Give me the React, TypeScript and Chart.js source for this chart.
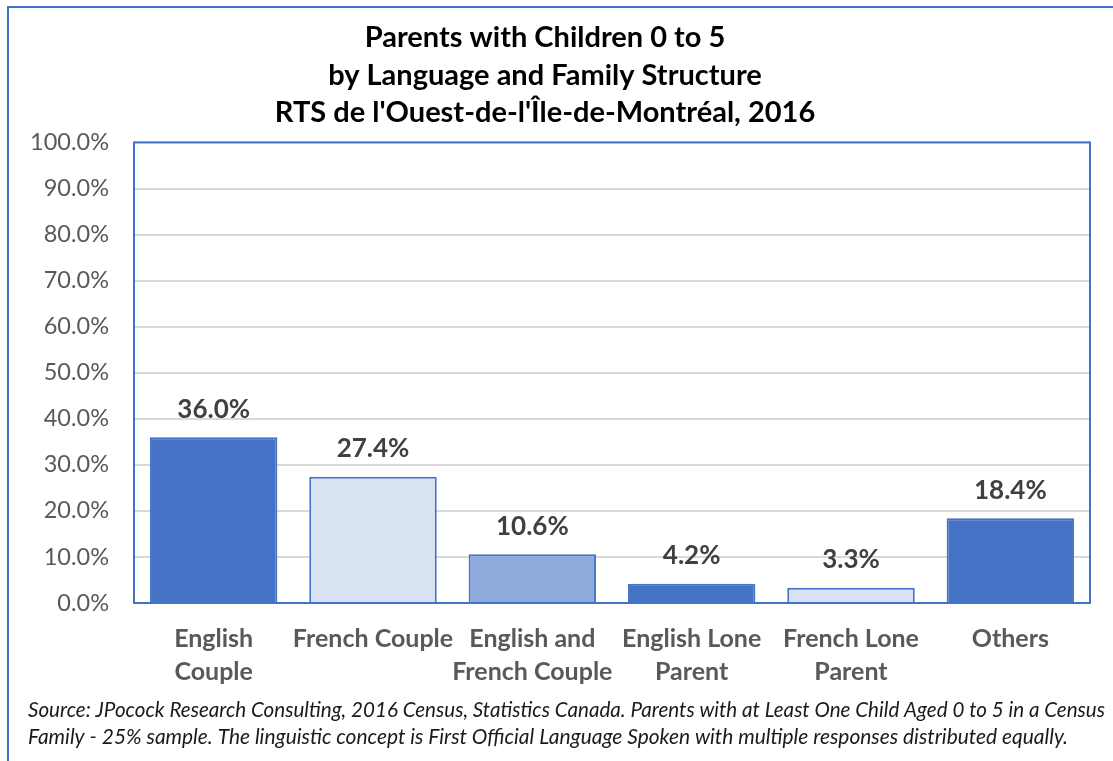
import React, { useEffect, useRef } from "react";
import { Chart, registerables } from "chart.js";

Chart.register(...registerables);

const categories: (string | string[])[] = [
  ["English", "Couple"],
  "French Couple",
  ["English and", "French Couple"],
  ["English Lone", "Parent"],
  ["French Lone", "Parent"],
  "Others",
];
const shares: number[] = [36.0, 27.4, 10.6, 4.2, 3.3, 18.4];
const barColors: string[] = ["#4472C4", "#DAE3F3", "#8FAADC", "#4472C4", "#DAE3F3", "#4472C4"];
const titleLines: string[] = [
  "Parents with Children 0 to 5",
  "by Language and Family Structure",
  "RTS de l'Ouest-de-l'Île-de-Montréal, 2016",
];
const footnoteLines: string[] = [
  "Source: JPocock Research Consulting, 2016 Census, Statistics Canada. Parents with at Least One Child Aged 0 to 5 in a Census",
  "Family - 25% sample. The linguistic concept is First Official Language Spoken with multiple responses distributed equally.",
];

const BLUE = "#4472C4";
const FONT = "Lato, 'Open Sans', sans-serif";

const decorPlugin = {
  id: "decor",
  afterDraw(chart: any) {
    const { ctx, chartArea } = chart;
    ctx.save();
    ctx.strokeStyle = BLUE;
    ctx.lineWidth = 2;
    ctx.beginPath();
    ctx.moveTo(8, 761);
    ctx.lineTo(8, 7);
    ctx.lineTo(1113, 7);
    ctx.stroke();
    ctx.strokeRect(chartArea.left, chartArea.top, chartArea.right - chartArea.left, chartArea.bottom - chartArea.top);
    ctx.fillStyle = "#1a1a1a";
    ctx.font = `italic 21px ${FONT}`;
    ctx.textAlign = "left";
    ctx.textBaseline = "middle";
    ctx.fillText(footnoteLines[0], 28, 710, 1077);
    ctx.fillText(footnoteLines[1], 28, 737, 1040);
    ctx.restore();
  },
  afterDatasetsDraw(chart: any) {
    const { ctx } = chart;
    const meta = chart.getDatasetMeta(0);
    ctx.save();
    ctx.fillStyle = "#404040";
    ctx.font = `bold 26px ${FONT}`;
    ctx.textAlign = "center";
    ctx.textBaseline = "middle";
    meta.data.forEach((bar: any, i: number) => {
      ctx.fillText(shares[i].toFixed(1) + "%", bar.x, bar.y - 28);
    });
    ctx.restore();
  },
};

export default function App() {
  const ref = useRef<HTMLCanvasElement | null>(null);
  useEffect(() => {
    if (!ref.current) return;
    const chart = new Chart(ref.current, {
      type: "bar",
      data: {
        labels: categories,
        datasets: [
          {
            data: shares,
            backgroundColor: barColors,
            borderColor: BLUE,
            borderWidth: 2,
            barPercentage: 0.8,
            categoryPercentage: 1.0,
          },
        ],
      },
      options: {
        animation: false,
        responsive: false,
        maintainAspectRatio: false,
        layout: { padding: { left: 0, right: 23, top: 0, bottom: 0 } },
        plugins: {
          legend: { display: false },
          tooltip: { enabled: false },
          title: {
            display: true,
            text: titleLines,
            color: "#000000",
            font: { family: FONT, size: 29, weight: "bold", lineHeight: 1.293 },
            padding: { top: 19, bottom: 11 },
          },
        },
        scales: {
          x: {
            grid: { display: false, drawTicks: false },
            border: { display: false },
            ticks: {
              color: "#595959",
              font: { family: FONT, size: 25, weight: "bold", lineHeight: 1.3 },
              padding: 20,
              maxRotation: 0,
              autoSkip: false,
            },
            afterFit(scale: any) {
              scale.height = 158;
            },
          },
          y: {
            min: 0,
            max: 100,
            grid: { color: "#d9d9d9", lineWidth: 2, drawTicks: false },
            border: { display: false },
            ticks: {
              stepSize: 10,
              color: "#595959",
              font: { family: FONT, size: 23.5 },
              padding: 25,
              callback: (v: any) => Number(v).toFixed(1) + "%",
            },
            afterFit(scale: any) {
              scale.width = 134;
            },
          },
        },
      },
      plugins: [decorPlugin],
    });
    return () => chart.destroy();
  }, []);
  return (
    <div style={{ position: "absolute", left: 0, top: 0, width: 1113, height: 761, background: "#fff" }}>
      <canvas ref={ref} width={1113} height={761} style={{ display: "block" }} />
    </div>
  );
}
